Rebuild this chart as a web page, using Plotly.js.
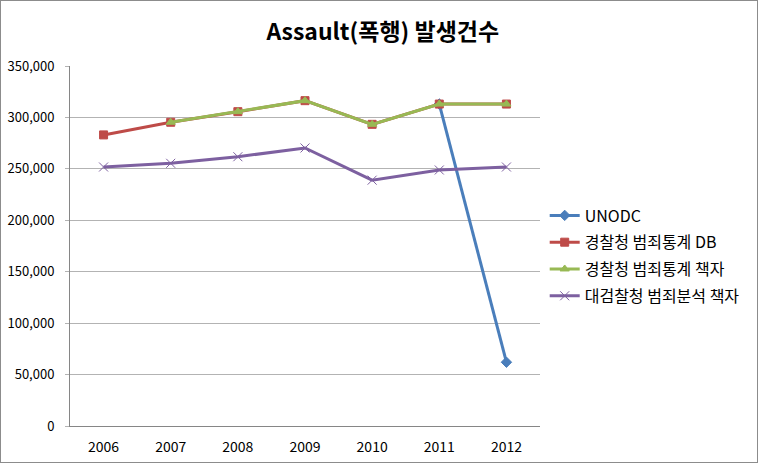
<!DOCTYPE html>
<html><head><meta charset="utf-8">
<script src="https://cdn.plot.ly/plotly-3.0.1.min.js"></script>
<style>
html,body{margin:0;padding:0;background:#fff;}
#c{width:756px;height:461px;border:1px solid #8c8c8c;}
</style></head>
<body><div id="c"></div>
<script>
var years = ['2006','2007','2008','2009','2010','2011','2012'];
var unodc = [null, null, null, null, null, 313000, 62000];
var policeDB = [283000, 295300, 305600, 316300, 293300, 313000, 313000];
var policeBook = [null, 295300, 305600, 316300, 293300, 313000, 313000];
var prosecutorBook = [251800, 255400, 261800, 270300, 239000, 248900, 251800];
var names = ['UNODC', '경찰청 범죄통계 DB', '경찰청 범죄통계 책자', '대검찰청 범죄분석 책자'];

var F = '"Malgun Gothic","Noto Sans CJK KR", sans-serif';
function tr(y, name, color, sym, size, grp){
  return {x: years, y: y, name: name, type: 'scatter', mode: 'lines+markers',
    connectgaps: false, legendgroup: grp,
    line: {color: color, width: 3},
    marker: {symbol: sym, size: size, color: color, line: {color: color, width: 1}}};
}
var data = [
  tr(unodc, names[0], '#4a7ebb', 'diamond', 8, 'a'),
  tr(policeDB, names[1], '#be4b48', 'square', 8, 'b'),
  tr(policeBook, names[2], '#98b954', 'triangle-up', 8, 'c'),
  tr(prosecutorBook, names[3], '#7d60a0', 'x-thin', 9, 'd')
];
var layout = {
  width: 756, height: 461,
  margin: {l: 69, r: 215, t: 65, b: 36},
  paper_bgcolor: '#fff', plot_bgcolor: '#fff',
  font: {family: F, size: 13, color: '#000'},
  title: {text: '<b>Assault(폭행) 발생건수</b>', font: {family: F, size: 23, color: '#000'},
    x: 0.505, xanchor: 'center', y: 0.932, yanchor: 'middle'},
  showlegend: true,
  legend: {x: 1.01, xanchor: 'left', y: 0.632, yanchor: 'top', font: {family: F, size: 16, color: '#000'},
    traceorder: 'grouped', tracegroupgap: 3, bgcolor: 'rgba(0,0,0,0)', itemwidth: 30},
  xaxis: {type: 'category', range: [-0.5, 6.5], showgrid: false, showline: true,
    linecolor: '#868686', linewidth: 1, ticks: '', ticklabelstandoff: 8,
    tickfont: {family: F, size: 14}, fixedrange: true},
  yaxis: {range: [0, 350000], dtick: 50000, tick0: 0, tickformat: ',', showgrid: true,
    gridcolor: '#b3b3b3', gridwidth: 1, showline: true, linecolor: '#868686', linewidth: 1,
    zeroline: false, ticks: 'outside', ticklen: 4, tickcolor: '#b3b3b3', ticklabelstandoff: 8,
    tickfont: {family: F, size: 13}, fixedrange: true}
};
Plotly.newPlot('c', data, layout, {displayModeBar: false, staticPlot: true});
</script></body></html>
